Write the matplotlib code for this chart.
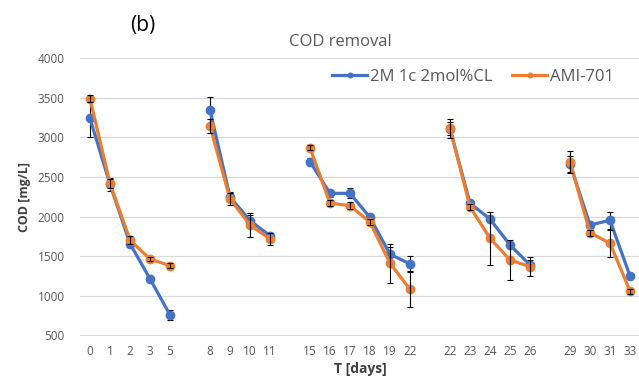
import numpy as np
import matplotlib
matplotlib.use("Agg")
import matplotlib.pyplot as plt

plt.rcParams['font.family'] = ['Open Sans', 'DejaVu Sans']

# Category labels (empty strings are gaps between cycles)
days = ['0', '1', '2', '3', '5', '',
        '8', '9', '10', '11', '',
        '15', '16', '17', '18', '19', '22', '',
        '22', '23', '24', '25', '26', '',
        '29', '30', '31', '33']

nan = np.nan
cod_2m = [3240, 2410, 1660, 1215, 760, nan,
          3345, 2250, 1950, 1760, nan,
          2695, 2295, 2295, 1990, 1525, 1405, nan,
          3110, 2170, 1970, 1643, 1390, nan,
          2670, 1895, 1955, 1250]
err_2m = [240, 80, 40, 30, 60, nan,
          170, 60, 70, 40, nan,
          40, 40, 65, 40, 95, 95, nan,
          80, 40, 40, 40, 60, nan,
          100, 40, 105, 30]

cod_ami = [3490, 2420, 1705, 1465, 1382, nan,
           3145, 2224, 1895, 1718, nan,
           2871, 2170, 2140, 1930, 1412, 1083, nan,
           3116, 2126, 1727, 1453, 1370, nan,
           2690, 1797, 1665, 1060]
err_ami = [45, 60, 50, 25, 35, nan,
           90, 80, 150, 70, nan,
           30, 40, 40, 40, 245, 225, nan,
           120, 40, 335, 250, 120, nan,
           135, 40, 170, 30]

blue = '#4472C4'
orange = '#ED7D31'
gray = '#595959'
dark = '#404040'

fig = plt.figure(figsize=(6.39, 3.87), dpi=100)
ax = fig.add_axes([80/639, 1-335.5/387, 560/639, (335.5-58.3)/387])

x = np.arange(len(days))
ax.errorbar(x, cod_2m, yerr=err_2m, fmt='none', ecolor='black', elinewidth=0.8,
            capsize=2.5, capthick=0.8, zorder=3)
ax.plot(x, cod_2m, color=blue, lw=2.3, marker='o', ms=6, label='2M 1c 2mol%CL', zorder=4)
ax.plot(x, cod_ami, color=orange, lw=2.3, marker='o', ms=6, label='AMI-701', zorder=5)
ax.errorbar(x, cod_ami, yerr=err_ami, fmt='none', ecolor='black', elinewidth=0.8,
            capsize=2.5, capthick=0.8, zorder=6)

ax.set_xlim(-0.5, len(days) - 0.5)
ax.set_ylim(500, 4000)
ax.set_yticks(np.arange(500, 4001, 500))
ax.set_xticks(x)
ax.set_xticklabels(days)
ax.tick_params(axis='both', length=0, labelsize=8.5, labelcolor=gray)
ax.tick_params(axis='x', pad=7)
ax.tick_params(axis='y', pad=11)
ax.grid(axis='y', color='#D9D9D9', lw=0.9)
ax.set_axisbelow(True)
for s in ax.spines.values():
    s.set_visible(False)

ax.set_ylabel('COD [mg/L]', fontsize=9, fontweight='bold', color=dark, labelpad=5)
ax.set_xlabel('T [days]', fontsize=10, fontweight='bold', color=dark, labelpad=3)

fig.text(340/639, 1-42/387, 'COD removal', fontsize=12, color=gray, ha='center', va='center')
fig.text(143/639, 1-25/387, '(b)', fontsize=15, color='black', ha='center', va='center')

leg = ax.legend(loc='upper right', bbox_to_anchor=(0.98, 1.015), ncol=2, frameon=False,
                fontsize=12, handlelength=2.1, columnspacing=1.2, handletextpad=0.15,
                labelcolor=gray, markerscale=0.55)

fig.savefig('out.png', dpi=100)
